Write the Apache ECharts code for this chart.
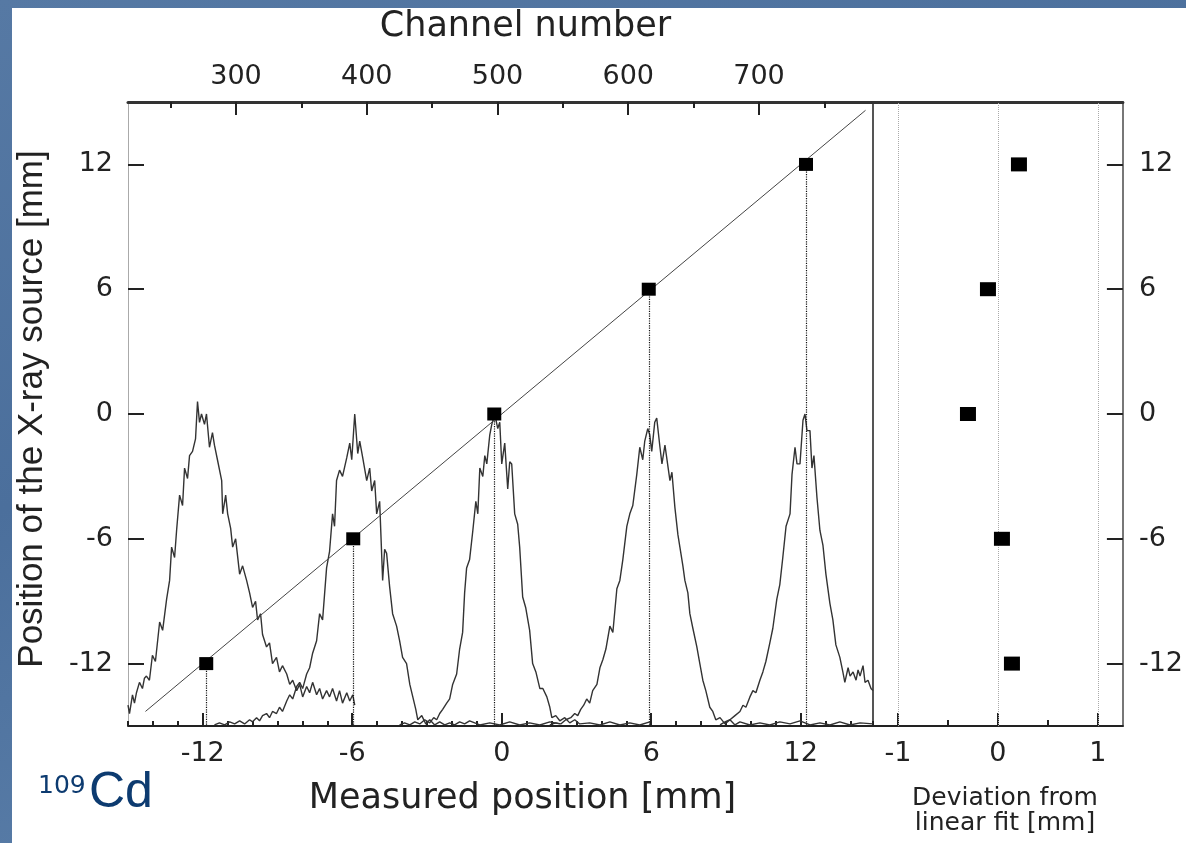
<!DOCTYPE html>
<html>
<head>
<meta charset="utf-8">
<title>109Cd source scan</title>
<script src="https://cdn.jsdelivr.net/npm/echarts@6/dist/echarts.min.js"></script>
<style>
html, body { margin: 0; padding: 0; }
body { width: 1186px; height: 843px; overflow: hidden;
  background: linear-gradient(160deg, #5679a4 0%, #4b6f9c 40%, #577ba6 70%, #4a6d99 100%); }
#paper { position: absolute; left: 12px; top: 8px; width: 1174px; height: 835px; background: #fff; }
#chart { position: absolute; left: 0; top: 0; width: 1186px; height: 843px; }
</style>
</head>
<body>
<div id="paper"></div>
<div id="chart"></div>
<script>
// source positions (y) and where they were measured (x), residuals of the fit
var sourcePos = [-12, -6, 0, 6, 12];
var measuredPos = [-11.86, -5.96, -0.30, 5.90, 12.21];
var deviation = [0.14, 0.04, -0.30, -0.10, 0.21];
var fitLine = [[-14.3, -14.3], [14.6, 14.6]];

// tick labels
var posTicks = [-12, -6, 0, 6, 12];
var channelTicks = [300, 400, 500, 600, 700];
var channelMinor = [250, 350, 450, 550, 650, 750];
var devTicks = [-1, 0, 1];
var devMinor = [-0.5, 0.5];

// measured spectra (same units as the position axes)
var specA = [[-15.0,-14.0],[-14.94,-14.4],[-14.82,-13.5],[-14.74,-13.9],[-14.66,-13.4],[-14.54,-12.9],[-14.42,-13.2],[-14.34,-12.7],[-14.26,-12.6],[-14.14,-12.8],[-14.02,-11.6],[-13.90,-11.9],[-13.73,-10.0],[-13.61,-10.4],[-13.45,-8.9],[-13.33,-8.0],[-13.25,-6.4],[-13.13,-6.9],[-13.05,-5.6],[-12.93,-3.9],[-12.81,-4.4],[-12.73,-2.6],[-12.61,-3.1],[-12.53,-2.0],[-12.41,-1.8],[-12.29,-1.2],[-12.21,0.6],[-12.13,-0.4],[-12.05,0.0],[-11.93,-0.5],[-11.85,0.0],[-11.73,-1.6],[-11.61,-0.9],[-11.53,-1.5],[-11.41,-2.2],[-11.24,-3.2],[-11.20,-4.8],[-11.08,-3.9],[-11.00,-4.8],[-10.88,-5.5],[-10.80,-6.4],[-10.68,-6.0],[-10.52,-7.7],[-10.40,-7.3],[-10.24,-8.0],[-10.12,-8.6],[-10.00,-9.3],[-9.88,-9.0],[-9.80,-9.9],[-9.68,-9.6],[-9.60,-10.6],[-9.44,-11.2],[-9.32,-11.0],[-9.20,-12.0],[-9.04,-11.7],[-8.92,-12.4],[-8.80,-12.1],[-8.63,-12.5],[-8.51,-13.0],[-8.39,-12.8],[-8.23,-13.3],[-8.11,-13.0],[-7.99,-13.6],[-7.83,-13.1],[-7.71,-13.4],[-7.59,-12.9],[-7.43,-13.5],[-7.31,-13.2],[-7.19,-13.7],[-7.03,-13.3],[-6.91,-13.6],[-6.79,-13.2],[-6.63,-13.8],[-6.51,-13.3],[-6.39,-13.9],[-6.22,-13.4],[-6.10,-13.8],[-5.98,-13.5],[-5.90,-14.0]];

var specB = [[-11.53,-14.95],[-11.33,-14.85],[-11.12,-14.95],[-10.92,-14.8],[-10.72,-14.9],[-10.52,-14.75],[-10.32,-14.9],[-10.12,-14.7],[-10.00,-14.8],[-9.84,-14.6],[-9.72,-14.75],[-9.60,-14.5],[-9.44,-14.4],[-9.32,-14.6],[-9.20,-14.3],[-9.04,-14.4],[-8.92,-14.1],[-8.80,-14.3],[-8.63,-13.8],[-8.51,-13.5],[-8.39,-13.7],[-8.23,-13.1],[-8.11,-12.9],[-7.99,-13.2],[-7.83,-12.5],[-7.71,-12.2],[-7.59,-11.5],[-7.43,-10.9],[-7.31,-9.6],[-7.19,-9.9],[-7.03,-7.4],[-6.91,-6.6],[-6.79,-4.8],[-6.71,-5.4],[-6.63,-3.2],[-6.51,-2.7],[-6.39,-3.0],[-6.22,-2.1],[-6.10,-1.4],[-6.02,-2.2],[-5.90,0.0],[-5.78,-1.9],[-5.70,-1.3],[-5.58,-2.1],[-5.42,-3.2],[-5.30,-2.6],[-5.22,-3.7],[-5.10,-3.2],[-5.02,-4.8],[-4.90,-4.2],[-4.78,-8.0],[-4.70,-6.5],[-4.62,-6.7],[-4.50,-8.3],[-4.38,-9.6],[-4.22,-10.2],[-4.10,-10.9],[-3.98,-11.7],[-3.82,-12.0],[-3.69,-13.0],[-3.57,-13.6],[-3.45,-14.2],[-3.37,-14.7],[-3.21,-14.5],[-3.05,-14.9],[-2.89,-14.7],[-2.69,-14.95],[-2.49,-14.8],[-2.29,-14.95],[-2.09,-14.85],[-1.89,-14.95],[-1.69,-14.8],[-1.49,-14.9],[-1.29,-14.75],[-0.88,-14.95],[-0.48,-14.85],[-0.08,-14.95],[0.32,-14.8],[0.72,-14.95],[1.12,-14.85],[1.53,-14.95],[1.93,-14.8],[2.33,-14.9]];

var specC = [[-4.10,-14.95],[-3.90,-14.85],[-3.69,-14.95],[-3.49,-14.8],[-3.29,-14.9],[-3.09,-14.7],[-2.89,-14.85],[-2.73,-14.6],[-2.61,-14.7],[-2.49,-14.4],[-2.37,-14.2],[-2.21,-13.9],[-2.09,-13.7],[-1.97,-13.0],[-1.81,-12.5],[-1.69,-11.3],[-1.57,-10.5],[-1.49,-8.6],[-1.41,-7.4],[-1.29,-7.0],[-1.16,-5.6],[-1.04,-4.2],[-0.96,-4.8],[-0.88,-2.6],[-0.76,-3.0],[-0.68,-2.0],[-0.60,-2.4],[-0.48,-1.0],[-0.40,-0.5],[-0.28,0.0],[-0.16,-0.7],[-0.08,-0.4],[0.00,-2.4],[0.12,-1.4],[0.24,-3.6],[0.32,-2.3],[0.40,-2.4],[0.52,-4.8],[0.64,-5.3],[0.72,-6.4],[0.84,-8.8],[0.96,-9.3],[1.12,-10.4],[1.24,-12.0],[1.37,-12.4],[1.53,-13.2],[1.65,-13.2],[1.81,-13.6],[1.93,-14.1],[2.01,-14.6],[2.17,-14.5],[2.33,-14.75],[2.53,-14.6],[2.73,-14.85],[2.93,-14.7],[3.13,-14.9],[3.53,-14.85],[3.94,-14.95],[4.34,-14.8],[4.74,-14.95],[5.14,-14.85],[5.54,-14.95],[5.94,-14.8]];

var specD = [[1.93,-14.95],[2.17,-14.85],[2.37,-14.9],[2.57,-14.7],[2.77,-14.6],[2.93,-14.4],[3.05,-14.5],[3.17,-14.2],[3.29,-14.0],[3.41,-13.7],[3.53,-13.9],[3.65,-13.3],[3.82,-13.0],[3.94,-12.2],[4.06,-11.8],[4.18,-11.3],[4.34,-10.2],[4.46,-10.5],[4.62,-8.4],[4.74,-8.0],[4.86,-7.0],[5.02,-5.4],[5.14,-4.8],[5.26,-4.4],[5.42,-2.9],[5.54,-1.6],[5.66,-2.2],[5.74,-1.3],[5.86,-0.7],[5.94,-1.0],[6.02,-1.8],[6.14,-0.4],[6.22,-0.2],[6.35,-1.6],[6.43,-2.4],[6.55,-1.5],[6.63,-1.5],[6.75,-3.2],[6.83,-2.8],[6.95,-4.5],[7.07,-5.8],[7.15,-6.4],[7.27,-7.3],[7.35,-8.0],[7.47,-8.6],[7.55,-9.6],[7.67,-10.3],[7.83,-11.2],[7.95,-12.0],[8.07,-12.8],[8.19,-13.3],[8.35,-14.1],[8.47,-14.3],[8.59,-14.7],[8.76,-14.6],[8.96,-14.9],[9.16,-14.7],[9.36,-14.95],[9.56,-14.8],[9.96,-14.95],[10.36,-14.85],[10.76,-14.95],[11.16,-14.8],[11.57,-14.9],[11.97,-14.75],[12.37,-14.95],[12.77,-14.85],[13.17,-14.95],[13.57,-14.8],[13.98,-14.95],[14.38,-14.85],[14.9,-14.9]];

var specE = [[8.76,-14.95],[8.96,-14.8],[9.16,-14.7],[9.36,-14.5],[9.56,-14.3],[9.68,-14.0],[9.80,-14.1],[9.96,-13.6],[10.08,-13.3],[10.20,-13.4],[10.36,-12.8],[10.48,-12.4],[10.60,-11.9],[10.76,-11.0],[10.88,-10.3],[11.04,-8.9],[11.16,-8.2],[11.28,-6.9],[11.41,-5.4],[11.57,-4.8],[11.65,-2.9],[11.77,-1.6],[11.85,-2.4],[11.97,-2.4],[12.09,-0.3],[12.17,0.0],[12.25,-0.8],[12.37,-0.8],[12.45,-2.6],[12.53,-2.0],[12.65,-4.0],[12.77,-5.6],[12.89,-6.3],[13.01,-7.7],[13.17,-9.1],[13.29,-9.9],[13.41,-11.1],[13.57,-11.7],[13.69,-12.4],[13.77,-12.9],[13.90,-12.2],[13.98,-12.6],[14.10,-12.4],[14.22,-12.8],[14.30,-12.3],[14.38,-12.6],[14.50,-12.1],[14.58,-12.9],[14.70,-12.8],[14.82,-13.2],[14.9,-13.3]];

var spectra = [specA, specB, specC, specD, specE];

var posMin = -15, posMax = 15;
var ink = '#222';
var numFont = 'DejaVu Sans';

var chart = echarts.init(document.getElementById('chart'));

var spectrumSeries = spectra.map(function (s) {
  return {
    type: 'line', xAxisIndex: 0, yAxisIndex: 0, data: s,
    showSymbol: false, symbol: 'none', silent: true, z: 1,
    lineStyle: { color: '#333', width: 1.4 }
  };
});

var dropLines = measuredPos.map(function (m, i) {
  return [{ coord: [m, sourcePos[i]] }, { coord: [m, posMin] }];
});

chart.setOption({
  animation: false,
  grid: [
    { left: 128, top: 102, width: 745, height: 624 },
    { left: 873, top: 102, width: 250, height: 624 }
  ],
  xAxis: [
    { // measured position, minor ticks
      gridIndex: 0, type: 'value', position: 'bottom', min: -15, max: 14.9, interval: 1,
      axisLine: { show: true, onZero: false, lineStyle: { color: ink, width: 2 } },
      axisTick: { show: true, inside: true, length: 5, lineStyle: { color: ink, width: 2 } },
      axisLabel: { show: false }, splitLine: { show: false }
    },
    { // measured position, major ticks + labels
      gridIndex: 0, type: 'value', position: 'bottom', min: -15, max: 14.9,
      axisLine: { show: false, onZero: false },
      axisTick: { show: true, inside: true, length: 13, customValues: posTicks, lineStyle: { color: ink, width: 2 } },
      axisLabel: { customValues: posTicks, fontSize: 27, fontFamily: numFont, color: ink, margin: 14 },
      splitLine: { show: false },
      name: 'Measured position [mm]', nameLocation: 'middle', nameGap: 55, nameMoveOverlap: false,
      nameTextStyle: { fontSize: 35, fontFamily: numFont, color: ink, padding: [0, 0, 0, 44] }
    },
    { // channel number, minor ticks
      gridIndex: 0, type: 'value', position: 'top', min: 217.4, max: 787.2,
      axisLine: { show: true, onZero: false, lineStyle: { color: '#333', width: 3 } },
      axisTick: { show: true, inside: true, length: 6, customValues: channelMinor, lineStyle: { color: ink, width: 2 } },
      axisLabel: { show: false }, splitLine: { show: false }
    },
    { // channel number, major ticks + labels
      gridIndex: 0, type: 'value', position: 'top', min: 217.4, max: 787.2,
      axisLine: { show: false, onZero: false },
      axisTick: { show: true, inside: true, length: 13, customValues: channelTicks, lineStyle: { color: ink, width: 2 } },
      axisLabel: { customValues: channelTicks, fontSize: 27, fontFamily: numFont, color: ink, margin: 12 },
      splitLine: { show: false },
      name: 'Channel number', nameLocation: 'middle', nameGap: 58, nameMoveOverlap: false,
      nameTextStyle: { fontSize: 35, fontFamily: numFont, color: ink, padding: [0, 0, 0, 50] }
    },
    { // deviation, minor ticks
      gridIndex: 1, type: 'value', position: 'bottom', min: -1.25, max: 1.25,
      axisLine: { show: true, onZero: false, lineStyle: { color: ink, width: 2 } },
      axisTick: { show: true, inside: true, length: 6, customValues: devMinor, lineStyle: { color: ink, width: 2 } },
      axisLabel: { show: false }, splitLine: { show: false }
    },
    { // deviation, major ticks + labels
      gridIndex: 1, type: 'value', position: 'bottom', min: -1.25, max: 1.25,
      axisLine: { show: false, onZero: false },
      axisTick: { show: true, inside: true, length: 13, customValues: devTicks, lineStyle: { color: ink, width: 2 } },
      axisLabel: { customValues: devTicks, fontSize: 27, fontFamily: numFont, color: ink, margin: 14 },
      splitLine: { show: false },
      name: 'Deviation from\nlinear fit [mm]', nameLocation: 'middle', nameGap: 60, nameMoveOverlap: false,
      nameTextStyle: { fontSize: 25, lineHeight: 25, fontFamily: numFont, color: ink, padding: [0, 0, 0, 14] }
    },
    { // top frame of the deviation panel
      gridIndex: 1, type: 'value', position: 'top', min: -1.25, max: 1.25,
      axisLine: { show: true, onZero: false, lineStyle: { color: '#333', width: 3 } },
      axisTick: { show: false }, axisLabel: { show: false }, splitLine: { show: false }
    }
  ],
  yAxis: [
    {
      gridIndex: 0, type: 'value', position: 'left', min: posMin, max: posMax,
      axisLine: { show: true, onZero: false, lineStyle: { color: '#aaa', width: 1 } },
      axisTick: { show: true, inside: true, length: 16, customValues: posTicks, lineStyle: { color: ink, width: 2 } },
      axisLabel: { customValues: posTicks, fontSize: 27, fontFamily: numFont, color: ink, margin: 15 },
      splitLine: { show: false },
      name: 'Position of the X-ray source [mm]', nameLocation: 'middle', nameGap: 78, nameMoveOverlap: false,
      nameTextStyle: { fontSize: 35, fontFamily: 'Liberation Sans', color: ink, padding: [0, 0, 0, 10] }
    },
    { // divider between the two panels
      gridIndex: 1, type: 'value', position: 'left', min: posMin, max: posMax,
      axisLine: { show: true, onZero: false, lineStyle: { color: '#555', width: 2 } },
      axisTick: { show: false }, axisLabel: { show: false }, splitLine: { show: false }
    },
    {
      gridIndex: 1, type: 'value', position: 'right', min: posMin, max: posMax,
      axisLine: { show: true, onZero: false, lineStyle: { color: '#777', width: 2 } },
      axisTick: { show: true, inside: true, length: 16, customValues: posTicks, lineStyle: { color: ink, width: 2 } },
      axisLabel: { customValues: posTicks, fontSize: 27, fontFamily: numFont, color: ink, margin: 16 },
      splitLine: { show: false }
    }
  ],
  graphic: [
    { type: 'text', left: 38, top: 774, style: { text: '109', fontSize: 25, fontFamily: numFont, fill: '#0d3b70' } },
    { type: 'text', left: 89, top: 768, style: { text: 'Cd', fontSize: 50, fontFamily: 'Liberation Sans', fill: '#0d3b70' } }
  ],
  series: spectrumSeries.concat([
    {
      type: 'line', xAxisIndex: 0, yAxisIndex: 0, data: fitLine,
      showSymbol: false, symbol: 'none', silent: true, z: 2,
      lineStyle: { color: '#444', width: 1 }
    },
    {
      type: 'scatter', xAxisIndex: 0, yAxisIndex: 0, z: 5,
      data: measuredPos.map(function (m, i) { return [m, sourcePos[i]]; }),
      symbol: 'rect', symbolSize: [14, 13], itemStyle: { color: '#000', opacity: 1 },
      markLine: {
        silent: true, symbol: 'none', label: { show: false },
        lineStyle: { color: '#111', width: 1.2, type: 'dotted', opacity: 1 },
        data: dropLines
      }
    },
    {
      type: 'scatter', xAxisIndex: 5, yAxisIndex: 2, z: 5,
      data: deviation.map(function (d, i) { return [d, sourcePos[i]]; }),
      symbol: 'rect', symbolSize: [16, 14], itemStyle: { color: '#000', opacity: 1 },
      markLine: {
        silent: true, symbol: 'none', label: { show: false },
        lineStyle: { color: '#aaa', width: 1, type: 'dotted', opacity: 1 },
        data: devTicks.map(function (v) { return { xAxis: v }; })
      }
    }
  ])
});
</script>
</body>
</html>
